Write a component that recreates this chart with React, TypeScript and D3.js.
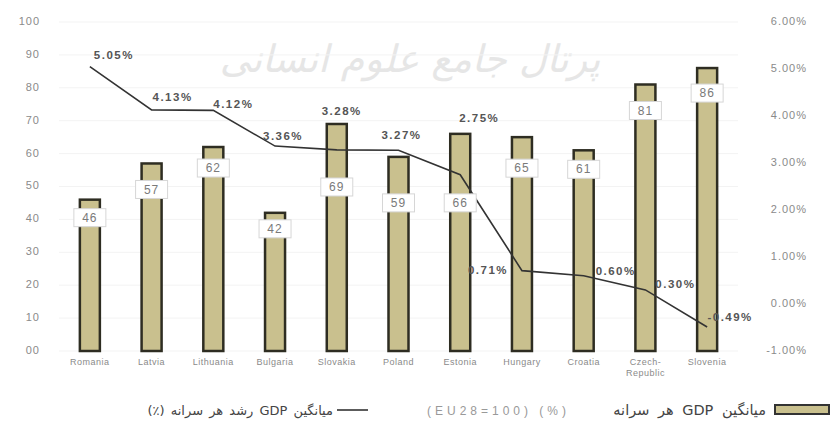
import React from "react";
import * as d3 from "d3";

const categories = ["Romania", "Latvia", "Lithuania", "Bulgaria", "Slovakia", "Poland", "Estonia", "Hungary", "Croatia", "Czech-Republic", "Slovenia"];
const gdpPerCapita = [46, 57, 62, 42, 69, 59, 66, 65, 61, 81, 86];
const gdpGrowth = [5.05, 4.13, 4.12, 3.36, 3.28, 3.27, 2.75, 0.71, 0.6, 0.3, -0.49];
const leftTicks = [0, 10, 20, 30, 40, 50, 60, 70, 80, 90, 100];
const leftTickLabels = ["00", "10", "20", "30", "40", "50", "60", "70", "80", "90", "100"];
const rightTicks = [-1, 0, 1, 2, 3, 4, 5, 6];
const legendBarLabel = "میانگین GDP هر سرانه";
const legendBarLabelLatin = "(EU28=100) (%)";
const legendLineLabel = "میانگین GDP رشد هر سرانه (٪)";
const watermark = "پرتال جامع علوم انسانی";

// layout offsets for labels (pixels, relative to their mark)
const barLabelDrop = [18, 26, 21, 16, 63, 46, 69, 31, 19, 26, 25];
const lineLabelDx = [24, 21, 20, 8, 5, 3, 19, -34, 32, 30, 23];
const lineLabelDy = [-11, -12, -5, -9, -38, -14, -56, 0, -4, -5, -9];

const W = 833;
const H = 425;
const top = 22;
const bottom = 351;

const pct = (v: number) => d3.format(".2f")(v).replace("\u2212", "-") + "%";

export default function App() {
  const x = d3.scaleBand<string>().domain(categories).range([59, 738]).padding(0);
  const yL = d3.scaleLinear().domain([0, 100]).range([bottom, top]);
  const yR = d3.scaleLinear().domain([-1, 6]).range([bottom, top]);
  const cx = (c: string) => (x(c) as number) + x.bandwidth() / 2;
  const barW = 20;

  const line = d3
    .line<number>()
    .x((_, i) => cx(categories[i]))
    .y((d) => yR(d));

  const tickFont = "'Liberation Sans', Arial, sans-serif";

  return (
    <svg
      width={W}
      height={H}
      style={{ position: "absolute", left: 0, top: 0, background: "#fff" }}
    >
      <rect x={0} y={0} width={W} height={H} fill="#fff" />
      {/* watermark */}
      <text
        x={410}
        y={72}
        textAnchor="middle"
        direction="rtl"
        fontFamily="'DejaVu Sans', sans-serif"
        fontStyle="italic"
        fontSize={38}
        fill="#e6e6e6"
      >
        {watermark}
      </text>
      {/* faint gridlines */}
      {leftTicks.map((t) => (
        <line key={"g" + t} x1={59} x2={738} y1={yL(t)} y2={yL(t)} stroke="#f3f3f3" strokeWidth={1} />
      ))}
      {/* left axis labels */}
      {leftTicks.map((t, i) => (
        <text
          key={"l" + t}
          x={40}
          y={yL(t)}
          textAnchor="end"
          dominantBaseline="middle"
          fontFamily={tickFont}
          fontSize={11}
          letterSpacing={1}
          fill="#8a8a8a"
        >
          {leftTickLabels[i]}
        </text>
      ))}
      {/* right axis labels */}
      {rightTicks.map((t) => (
        <text
          key={"r" + t}
          x={807}
          y={yR(t)}
          textAnchor="end"
          dominantBaseline="middle"
          fontFamily={tickFont}
          fontSize={11}
          letterSpacing={1}
          fill="#8a8a8a"
        >
          {pct(t)}
        </text>
      ))}
      {/* bars */}
      {categories.map((c, i) => (
        <rect
          key={"b" + c}
          x={cx(c) - barW / 2}
          y={yL(gdpPerCapita[i])}
          width={barW}
          height={bottom - yL(gdpPerCapita[i])}
          fill="#c9c08e"
          stroke="#2e2d22"
          strokeWidth={2.5}
        />
      ))}
      {/* growth line */}
      <path d={line(gdpGrowth) || ""} fill="none" stroke="#333" strokeWidth={1.6} />
      {/* bar value labels */}
      {categories.map((c, i) => {
        const yy = yL(gdpPerCapita[i]) + barLabelDrop[i];
        return (
          <g key={"bl" + c}>
            <rect x={cx(c) - 16} y={yy - 9} width={32} height={18} fill="#fff" stroke="#d6d6d6" strokeWidth={1} />
            <text
              x={cx(c)}
              y={yy + 1}
              textAnchor="middle"
              dominantBaseline="middle"
              fontFamily={tickFont}
              fontSize={12}
              letterSpacing={1}
              fill="#7a7a7a"
            >
              {gdpPerCapita[i]}
            </text>
          </g>
        );
      })}
      {/* growth labels */}
      {categories.map((c, i) => (
        <text
          key={"gl" + c}
          x={cx(c) + lineLabelDx[i]}
          y={yR(gdpGrowth[i]) + lineLabelDy[i]}
          textAnchor="middle"
          dominantBaseline="middle"
          fontFamily={tickFont}
          fontWeight="bold"
          fontSize={11.5}
          letterSpacing={1.5}
          fill="#555"
        >
          {pct(gdpGrowth[i])}
        </text>
      ))}
      {/* x axis labels */}
      {categories.map((c) => {
        const parts = c === "Czech-Republic" ? ["Czech-", "Republic"] : [c];
        return (
          <text
            key={"x" + c}
            x={cx(c)}
            y={365}
            textAnchor="middle"
            fontFamily={tickFont}
            fontSize={9}
            letterSpacing={0.5}
            fill="#8a8a8a"
          >
            {parts.map((p, j) => (
              <tspan key={p} x={cx(c)} dy={j === 0 ? 0 : 11}>
                {p}
              </tspan>
            ))}
          </text>
        );
      })}
      {/* legend */}
      <rect x={775} y={405} width={54} height={9} fill="#c9c08e" stroke="#333" strokeWidth={2} />
      <text
        x={766}
        y={415}
        textAnchor="start"
        direction="rtl"
        fontFamily="'DejaVu Sans', sans-serif"
        fontSize={14.5}
        wordSpacing={4}
        fill="#444"
      >
        {legendBarLabel}
      </text>
      <text
        x={427}
        y={415}
        textAnchor="start"
        fontFamily={tickFont}
        fontSize={12}
        letterSpacing={4}
        fill="#999"
      >
        {legendBarLabelLatin}
      </text>
      <line x1={337} x2={368} y1={410} y2={410} stroke="#333" strokeWidth={1.6} />
      <text
        x={333}
        y={415}
        textAnchor="start"
        direction="rtl"
        fontFamily="'DejaVu Sans', sans-serif"
        fontSize={13}
        wordSpacing={2}
        fill="#444"
      >
        {legendLineLabel}
      </text>
    </svg>
  );
}
